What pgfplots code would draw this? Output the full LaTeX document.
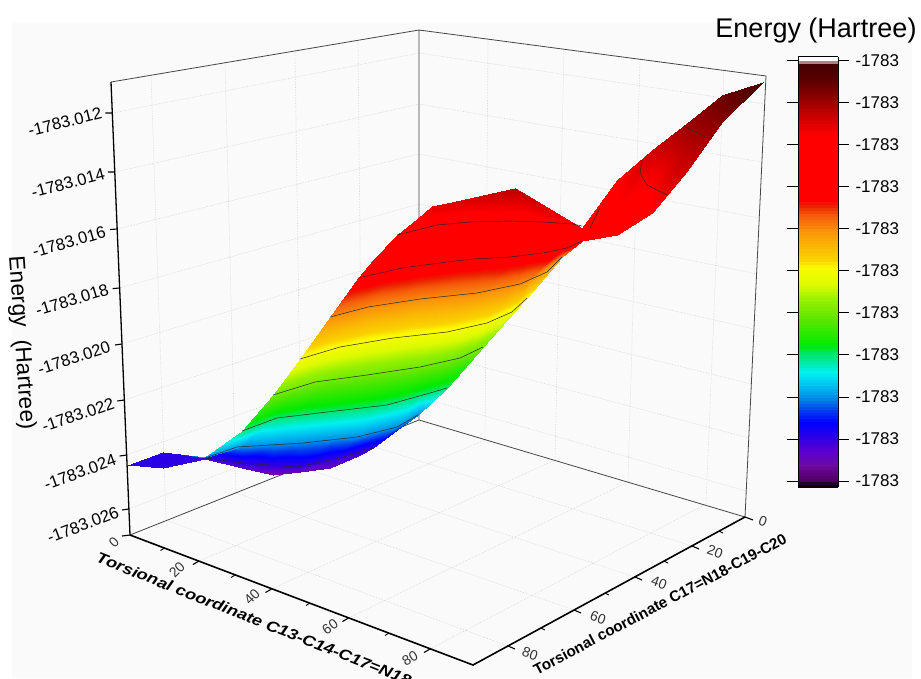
\documentclass[border=0pt]{standalone}
\usepackage{fontspec}
\setmainfont{Liberation Sans}
\usepackage{pgfplots}
\usepackage{pgfplotstable}
\pgfplotsset{compat=1.18}
\usepgfplotslibrary{patchplots}
% Energy (column c) in mHartree relative to -1783 Hartree; X, Y = projected position of the surface point.
\pgfplotstableread[row sep=\\]{
X Y c\\
128 465 -23.5\\128 465 -23.5\\128 465 -23.5\\128 465 -23.5\\128 465 -23.5\\128 465 -23.5\\128 465 -23.5\\128 465 -23.5\\128 465 -23.5\\128 465 -23.5\\
163 452 -23.45\\163 452 -23.45\\163 452 -23.45\\163 452 -23.45\\163 452 -23.45\\163 452 -23.45\\163 452 -23.45\\163 452 -23.45\\163 452 -23.45\\163 468 -23.5\\
205 457 -21.8\\205 457 -21.8\\205 457 -21.8\\205 457 -21.8\\205 457 -21.8\\205 457 -21.8\\205 457 -21.8\\205 458 -22.2\\205 458 -23.6\\205 459 -23.8\\
242 431 -20.8\\242 431 -20.8\\242 431 -20.8\\242 431 -20.8\\242 431 -20.8\\242 431 -20.8\\242 431 -20.8\\242 447 -22.2\\242 463 -23.6\\242 468 -23.9\\
273 395 -19.4\\273 395 -19.4\\273 395 -19.4\\273 395 -19.4\\273 395 -19.4\\273 395 -19.4\\273 419 -20.8\\273 445 -22.2\\273 466 -23.6\\273 475 -24.47\\
300 359 -18\\300 359 -18\\300 359 -18\\300 359 -18\\300 359 -18\\300 387 -19.4\\300 415 -20.8\\300 443 -22.2\\300 467 -23.6\\300 472 -24.4\\
330 317 -16.6\\330 317 -16.6\\330 317 -16.6\\330 317 -16.6\\330 350 -18\\330 380 -19.4\\330 412 -20.8\\330 440 -22.2\\330 460 -23.6\\330 468 -24.15\\
358 278 -15.2\\358 278 -15.2\\358 278 -15.2\\358 310 -16.6\\358 344 -18\\358 376 -19.4\\358 409 -20.8\\358 437 -22.2\\358 452 -23.6\\358 456 -23.8\\
373 260 -14.6\\373 260 -14.6\\373 275 -15.2\\373 306 -16.6\\373 341 -18\\373 374 -19.4\\373 407 -20.8\\373 433 -22.2\\373 448 -23.6\\373 448 -23.6\\
397 235 -13.8\\397 235 -13.8\\397 269 -15.2\\397 303 -16.6\\397 338 -18\\397 370 -19.4\\397 402 -20.8\\397 427 -22.2\\397 430 -22.9\\397 430 -22.9\\
418 218 -13.3\\418 230 -13.8\\418 266 -15.2\\418 299 -16.6\\418 335 -18\\418 367 -19.4\\418 396 -20.8\\418 415 -22.2\\418 415 -22.2\\418 415 -22.2\\
432 206 -13.13\\432 226 -13.8\\432 264 -15.2\\432 298 -16.6\\432 334 -18\\432 364 -19.4\\432 392 -20.8\\432 402 -21.5\\432 402 -21.5\\432 402 -21.5\\
447 203 -13.05\\447 224 -13.8\\447 262 -15.2\\447 296 -16.6\\447 332 -18\\447 361 -19.4\\447 388 -20.8\\447 388 -20.8\\447 388 -20.8\\447 388 -20.8\\
470 198 -12.97\\470 222 -13.8\\470 259 -15.2\\470 294 -16.6\\470 327 -18\\470 353 -19.4\\470 362 -19.9\\470 362 -19.9\\470 362 -19.9\\470 362 -19.9\\
483 195 -12.85\\483 222 -13.8\\483 258 -15.2\\483 292 -16.6\\483 324 -18\\483 347 -19.4\\483 347 -19.4\\483 347 -19.4\\483 347 -19.4\\483 347 -19.4\\
515 188 -12.63\\515 221 -13.8\\515 256 -15.2\\515 285 -16.6\\515 309 -18\\515 311 -18.4\\515 311 -18.4\\515 311 -18.4\\515 311 -18.4\\515 311 -18.4\\
527 195 -12.8\\527 222 -13.8\\527 255 -15.2\\527 281 -16.6\\527 298 -18\\527 298 -18\\527 298 -18\\527 298 -18\\527 298 -18\\527 298 -18\\
562 216 -13.1\\562 223 -13.8\\562 249 -15.2\\562 257 -16.6\\562 257 -16.6\\562 257 -16.6\\562 257 -16.6\\562 257 -16.6\\562 257 -16.6\\562 257 -16.6\\
582 228 -13.3\\582 228 -13.8\\582 241 -15.2\\582 241 -15.2\\582 241 -15.2\\582 241 -15.2\\582 241 -15.2\\582 241 -15.2\\582 241 -15.2\\582 241 -15.2\\
}\surfL
\pgfplotstableread[row sep=\\]{
X Y c\\
582 228 -13.63\\582 234 -13.97\\582 241 -14.47\\
617 180 -13.47\\617 207 -13.47\\617 235 -13.63\\
652 150 -12.9\\652 182 -13.47\\652 213 -13.47\\
687 123 -12.3\\687 147 -12.6\\687 171 -12.9\\
722 95 -11.8\\722 108 -11.95\\722 122 -12.1\\
763 82 -11.3\\763 82 -11.3\\763 82 -11.3\\
}\surfR
\pgfplotsset{
 colormap={vib}{
 rgb255(0)=(0,0,0) rgb255(4)=(0,0,0) rgb255(5)=(70,0,90) rgb255(12)=(90,0,120) rgb255(22)=(110,10,160)
 rgb255(37)=(90,0,210) rgb255(52)=(40,0,230) rgb255(65)=(0,0,255) rgb255(77)=(0,60,240) rgb255(90)=(0,140,230)
 rgb255(102)=(0,190,240) rgb255(115)=(0,240,240) rgb255(132)=(0,230,120) rgb255(142)=(0,235,0) rgb255(167)=(90,230,0)
 rgb255(187)=(150,240,0) rgb255(202)=(220,250,0) rgb255(220)=(250,250,0) rgb255(227)=(250,210,0) rgb255(242)=(250,180,5)
 rgb255(255)=(250,150,10) rgb255(272)=(245,90,10) rgb255(282)=(235,30,0) rgb255(287)=(255,0,0) rgb255(352)=(255,0,0)
 rgb255(365)=(220,0,0) rgb255(382)=(170,0,0) rgb255(397)=(120,0,0) rgb255(410)=(85,0,0) rgb255(425)=(70,0,0)
 rgb255(426)=(255,255,255) rgb255(430)=(255,255,255)
 }
}
\definecolor{bgc}{RGB}{250,250,250}
\definecolor{gridc}{RGB}{214,214,214}
\definecolor{framec}{RGB}{70,70,70}
\newcommand{\fs}[1]{\fontsize{#1}{#1}\selectfont}
\begin{document}
\begin{tikzpicture}
\path[use as bounding box] (0,0) rectangle (921pt,678pt);
\begin{axis}[
  scale only axis, width=921pt, height=678pt,
  xmin=0, xmax=921, ymin=0, ymax=678, y dir=reverse,
  hide axis, clip=false, unbounded coords=jump,
  point meta min=-25.2, point meta max=-10.867,
  colormap name=vib,
  colorbar sampled,
  colorbar style={
    at={(parent axis.south west)}, xshift=789.5pt, yshift=621pt, anchor=north west,
    samples=144,
    width=40pt, height=430pt,
    ytick={-25,-23.6,-22.2,-20.8,-19.4,-18,-16.6,-15.2,-13.8,-12.4,-11},
    yticklabels={-1783,-1783,-1783,-1783,-1783,-1783,-1783,-1783,-1783,-1783,-1783},
    yticklabel style={font=\fs{17}, xshift=3pt},
    tick style={black, line width=1pt},
    major tick length=11pt,
    tick align=outside,
    axis line style={black, line width=1pt},
  },
]
% background
\addplot[draw=none, fill=bgc, forget plot] coordinates {(12,23)(912,23)(912,678)(12,678)} --cycle;
% wall and floor grid
\addplot[gridc, densely dotted, line width=.6pt, forget plot] coordinates {
 (166,520)(151,75) (nan,nan) (236,493)(225,63) (nan,nan) (301,467)(295,52) (nan,nan) (362,443)(358,41) (nan,nan)
 (485,440)(488,39) (nan,nan) (555,460)(564,49) (nan,nan) (628,482)(640,59) (nan,nan) (706,504)(724,70) (nan,nan)
 (129,509)(419,397) (nan,nan) (126.6,455)(419,350) (nan,nan) (124.3,400)(419,302) (nan,nan) (122,344)(419,253) (nan,nan)
 (119.6,288)(419,204) (nan,nan) (117.2,229)(419,154) (nan,nan) (114.8,172)(419,104) (nan,nan) (112.3,113)(419,53) (nan,nan)
 (419,397)(746.2,491) (nan,nan) (419,350)(748.8,438) (nan,nan) (419,302)(751.3,384) (nan,nan) (419,253)(754,329) (nan,nan)
 (419,204)(756.6,274) (nan,nan) (419,154)(759.2,218) (nan,nan) (419,104)(761.9,162) (nan,nan) (419,53)(764.7,104) (nan,nan)
 (485,440)(199,561) (nan,nan) (555,460)(271.5,589) (nan,nan) (628,482)(348.5,618) (nan,nan) (706,504)(430,649) (nan,nan)
 (362,443)(692,546) (nan,nan) (301,467)(635,577) (nan,nan) (236,493)(574,610) (nan,nan) (166,520)(508,646)
};
% frame
\addplot[framec, line width=.8pt, forget plot] coordinates {
 (111,82)(419,30)(766,76)(745,517) (nan,nan) (419,30)(419,420) (nan,nan) (130,535)(419,420)(745,517)};
% surface
\addplot[surf, shader=interp, mesh/rows=6, mesh/cols=3, point meta=explicit, forget plot] table[x=X,y=Y,meta=c] {\surfR};
\addplot[surf, shader=interp, mesh/rows=19, mesh/cols=10, point meta=explicit, forget plot] table[x=X,y=Y,meta=c] {\surfL};
% iso-energy lines
\addplot[black!85, line width=.5pt, forget plot] coordinates {
 (397,235)(437,225)(470,222)(510,221)(543,222)(573,224)(582,226) (nan,nan)
 (358,278)(402,268)(447,262)(473,259)(510,257)(543,253)(567,248)(582,241) (nan,nan)
 (330,317)(368,307)(420,299)(477,293)(520,284)(547,272)(562,257) (nan,nan)
 (300,359)(340,347)(393,338)(447,332)(487,323)(512,312)(527,298) (nan,nan)
 (273,395)(315,382)(367,375)(420,367)(460,358)(483,347) (nan,nan)
 (242,431)(277,418)(327,412)(387,405)(430,393)(447,388) (nan,nan)
 (205,458)(237,447)(303,443)(357,437)(397,427)(418,415) (nan,nan)
 (205,458)(243,463)(297,467)(340,458)(373,448) (nan,nan)
 (600,208)(590,228) (nan,nan)
 (642,160)(640,173)(647,185)(667,195) (nan,nan)
 (685,127)(708,138)
};
% axes
\addplot[black, line width=1.6pt, forget plot] coordinates {(130,535)(473,665)(745,517)};
\addplot[black, line width=1.3pt, forget plot] coordinates {(111,82)(130,535)};
% ticks
\addplot[black, line width=1.1pt, forget plot] coordinates {
 (130,535)(122,536) (nan,nan) (199,561)(193,564.5) (nan,nan) (271.5,589)(265.5,592.5) (nan,nan) (348.5,618)(342.5,621.5) (nan,nan) (430,649)(424,652.5) (nan,nan)
 (745,517)(753,520) (nan,nan) (692,546)(699,549) (nan,nan) (635,577)(642,580) (nan,nan) (574,610)(581,613) (nan,nan) (508,646)(515,649) (nan,nan)
 (129,509)(122,510) (nan,nan) (126.6,455)(119.6,456) (nan,nan) (124.3,400)(117.3,401) (nan,nan) (122,344)(115,345) (nan,nan)
 (119.6,288)(112.6,288.6) (nan,nan) (117.2,229)(110.2,229.5) (nan,nan) (114.8,172)(107.8,172) (nan,nan) (112.3,113)(105.3,113)};
\addplot[black, line width=.9pt, forget plot] coordinates {
 (164.5,548)(160.5,550.5) (nan,nan) (235,575)(231,577.5) (nan,nan) (310,603)(306,605.5) (nan,nan) (389,633)(385,635.5) (nan,nan)
 (719,531)(723,533) (nan,nan) (664,561)(668,563) (nan,nan) (605,593)(609,595) (nan,nan) (541,628)(545,630)};
% z tick labels
\node[rotate=14,font=\fs{16.7}] at (axis cs:65,122) {-1783.012};
\node[rotate=15,font=\fs{16.7}] at (axis cs:68,183) {-1783.014};
\node[rotate=16,font=\fs{16.7}] at (axis cs:69,242) {-1783.016};
\node[rotate=17,font=\fs{16.7}] at (axis cs:72,300) {-1783.018};
\node[rotate=18,font=\fs{16.7}] at (axis cs:74,358) {-1783.020};
\node[rotate=19,font=\fs{16.7}] at (axis cs:78,415) {-1783.022};
\node[rotate=20,font=\fs{16.7}] at (axis cs:80,472) {-1783.024};
\node[rotate=21,font=\fs{16.7}] at (axis cs:83,525) {-1783.026};
% x tick labels
\node[rotate=45,font=\fs{14},text=black!80] at (axis cs:114,542) {0};
\node[rotate=45,font=\fs{14},text=black!80] at (axis cs:177,570) {20};
\node[rotate=45,font=\fs{14},text=black!80] at (axis cs:252,597) {40};
\node[rotate=35,font=\fs{14},text=black!80] at (axis cs:330,627) {60};
\node[rotate=30,font=\fs{14},text=black!80] at (axis cs:410,658) {80};
% y tick labels
\node[rotate=-20,font=\fs{14},text=black!80] at (axis cs:763,521) {0};
\node[rotate=-20,font=\fs{14},text=black!80] at (axis cs:715,552) {20};
\node[rotate=-20,font=\fs{14},text=black!80] at (axis cs:659,583) {40};
\node[rotate=-20,font=\fs{14},text=black!80] at (axis cs:598,618) {60};
\node[rotate=-20,font=\fs{14},text=black!80] at (axis cs:530,654) {80};
% titles
\node[rotate=-86,font=\fs{22.5}] at (axis cs:21,343) {Energy\ \ (Hartree)};
\node[rotate=-21.6,font=\fs{15}\bfseries\itshape] at (axis cs:254,619) {\scalebox{1.2}[1]{Torsional coordinate C13-C14-C17=N18}};
\node[rotate=28,font=\fs{15.2}\bfseries] at (axis cs:660,604) {Torsional coordinate C17=N18-C19-C20};
\node[font=\fs{27}] at (axis cs:816,31) {Energy (Hartree)};
\end{axis}
\end{tikzpicture}
\end{document}
